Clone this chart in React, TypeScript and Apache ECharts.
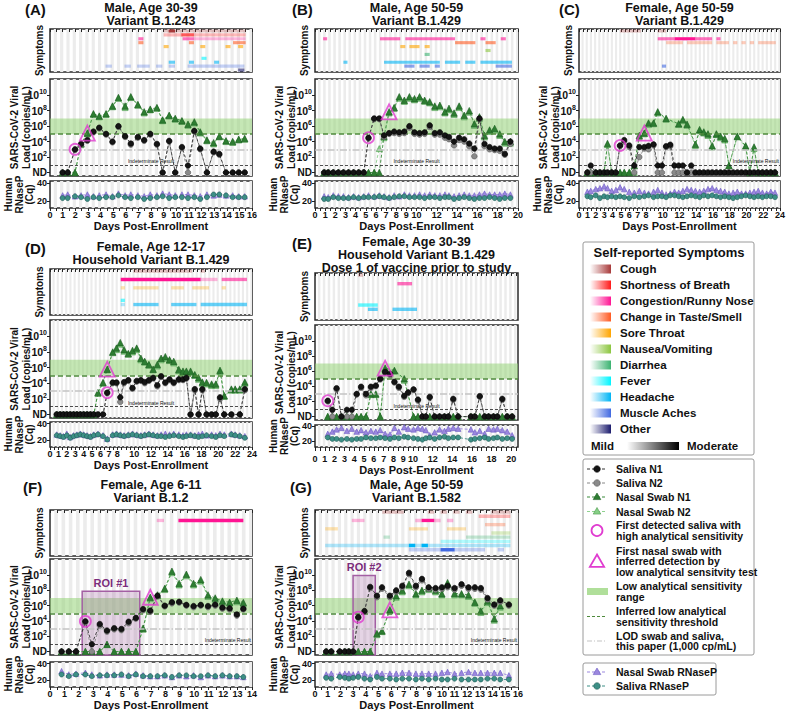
import React, { useEffect, useRef } from 'react';
import * as echarts from 'echarts';

const FONT = '"Liberation Sans", Arial, Helvetica, sans-serif';

// ---- symptom categories ----
const symptomNames = ['Cough', 'Shortness of Breath', 'Congestion/Runny Nose', 'Change in Taste/Smell', 'Sore Throat', 'Nausea/Vomiting', 'Diarrhea', 'Fever', 'Headache', 'Muscle Aches', 'Other'];
const symptomColors = ['#a83a3a', '#ff1a1a', '#ff1493', '#ff5a22', '#ffa500', '#8cc63f', '#3cb371', '#00f5ff', '#00b4f5', '#4169e1', '#1c1c6e'];
const severityAlpha = [0, 0.3, 0.6, 1];

// ---- Panel A ----
const A_days = [1.0, 1.4, 1.98, 2.46, 2.96, 3.44, 3.9, 4.44, 4.95, 5.42, 5.95, 6.4, 6.96, 7.46, 7.94, 8.47, 8.92, 9.44, 9.92, 10.45, 10.93, 11.43, 11.9, 12.43, 12.96, 13.41, 13.94, 14.47, 14.95, 15.42];
const A_salN1 = [0, 0, 3.0, 3.7, 4.2, 5.3, 5.8, 5.0, 4.0, 6.0, 4.7, 3.75, 4.6, 4.2, 5.0, 3.7, 0, 4.1, 0, 3.3, 0.9, 5.4, 3.1, 0, 2.7, 2.4, 0, 0, 0, 0];
const A_salN2 = [0, 0, 2.9, 3.6, 4.1, 5.2, 5.7, 4.9, 3.9, 5.9, 4.6, 3.6, 4.5, 4.1, 4.9, 3.6, 0, 4.0, 0, 3.2, 0, 5.3, 3.0, 0, 2.6, 2.3, 0, 0, 0, 0];
const A_nasN1 = [0, 0, 0, 3.75, 5.1, 7.6, 7.3, 7.6, 8.6, 9.7, 8.6, 9.8, 8.8, 7.85, 8.2, 8.4, 6.8, 7.4, 7.0, 6.7, 6.25, 6.55, 5.25, 4.2, 3.85, 4.7, 4.1, 4.0, 4.3, 4.4];
const A_nasN2 = [0, 0, 0, 3.6, 5.0, 7.5, 7.2, 7.5, 8.5, 9.6, 8.4, 9.7, 8.7, 7.7, 8.1, 8.3, 6.7, 7.3, 6.9, 6.6, 6.1, 6.4, 5.1, 4.1, 3.7, 4.6, 4.0, 3.9, 4.2, 4.3];
const A_rnNas = [26, 27, 25, 26, 27, 25, 26, 27, 25, 28, 26, 27, 26, 25, 27, 26, 28, 27, 26, 27, 27, 26, 25, 27, 26, 27, 26, 26, 25, 25];
const A_rnSal = [23, 23, 25, 24, 22, 24, 23, 24, 24, 26, 24, 23, 24, 22, 23, 24, 25, 23, 24, 24, 23, 24, 22, 24, 27, 27, 26, 24, 24, 24];
const A_firstSaliva = [1.98, 3.0];
const A_firstSwab = [2.96, 5.1];
const A_sym = [[9.0, 15.5, 0, 1], [9.4, 9.9, 0, 3], [9.0, 15.5, 1, 1], [10.4, 11.4, 1, 2], [7.0, 7.4, 2, 2], [10.5, 11.4, 2, 2], [11.4, 15.5, 2, 1], [7.0, 7.4, 3, 2], [11.0, 11.4, 3, 2], [14.5, 15.5, 3, 2], [9.0, 9.4, 4, 2], [11.9, 12.3, 4, 2], [13.9, 14.3, 4, 2], [14.9, 15.3, 4, 2], [12.0, 12.4, 7, 2], [9.4, 9.9, 8, 2], [11.0, 11.4, 8, 2], [13.0, 13.4, 8, 2], [4.4, 4.9, 9, 1], [5.9, 6.4, 9, 1], [6.9, 7.9, 9, 1], [8.4, 8.9, 9, 1], [9.4, 9.9, 9, 1], [10.9, 15.4, 9, 1], [14.9, 15.4, 10, 2]];

// ---- Panel B ----
const B_days = [0.9, 1.3, 1.8, 2.3, 2.8, 3.3, 3.8, 4.3, 4.8, 5.27, 5.83, 6.33, 6.8, 7.3, 7.8, 8.3, 8.8, 9.3, 9.8, 10.3, 10.8, 11.3, 11.8, 12.3, 12.8, 13.2, 13.7, 14.2, 14.7, 15.2, 15.7, 16.2, 16.7, 17.2, 17.7, 18.2, 18.7, 19.25];
const B_salN1 = [0, 0, 0, 0, 0, 0, 0, 0, 0, 4.5, 7.0, 7.0, 4.8, 5.1, 5.3, 5.2, 5.3, 6.0, 5.2, 5.1, 5.2, 6.1, 5.1, 5.2, 4.8, 4.6, 4.0, 4.5, 4.3, 3.75, 3.1, 7.0, 3.7, 3.3, 3.1, 3.1, 2.4, 4.0];
const B_salN2 = [0, 0, 0, 0, 0, 0, 0, 0, 0, 4.4, 6.9, 6.9, 4.6, 5.0, 5.1, 5.0, 5.1, 5.8, 5.0, 4.9, 5.0, 5.9, 4.9, 4.9, 4.5, 4.3, 3.5, 4.2, 4.0, 3.4, 2.1, 6.9, 3.4, 3.0, 2.9, 2.8, 2.3, 3.7];
const B_nasN1 = [0, 0, 0, 0, 0, 0, 0, 0, 0, 0, 0, 0, 4.7, 7.85, 8.4, 9.8, 9.35, 9.8, 9.55, 9.8, 9.35, 9.15, 8.6, 8.7, 7.85, 8.3, 7.7, 8.6, 7.4, 8.0, 6.3, 7.2, 4.8, 5.5, 5.7, 5.0, 4.0, 4.0];
const B_nasN2 = [0, 0, 0, 0, 0, 0, 0, 0, 0, 0, 0, 3.1, 4.5, 7.7, 8.3, 9.6, 9.2, 9.6, 9.4, 9.6, 9.2, 9.0, 8.4, 8.5, 7.7, 8.1, 7.5, 8.4, 7.2, 7.8, 6.1, 7.0, 4.6, 5.3, 5.5, 4.8, 3.8, 3.8];
const B_rnNas = [25, 24, 26, 25, 25, 24, 25, 24, 25, 26, 25, 26, 25, 24, 26, 25, 27, 26, 26, 27, 26, 27, 26, 26, 27, 26, 25, 26, 27, 26, 26, 27, 28, 27, 27, 27, 28, 27];
const B_rnSal = [22, 22, 24, 23, 23, 23, 24, 23, 24, 24, 24, 25, 24, 23, 24, 25, 25, 24, 24, 24, 23, 24, 24, 23, 24, 24, 22, 23, 24, 23, 22, 23, 23, 24, 23, 22, 23, 23];
const B_firstSaliva = [5.27, 4.5];
const B_firstSwab = [7.3, 7.85];
const B_sym = [[0.8, 1.2, 2, 2], [6.4, 8.4, 2, 2], [8.9, 13.8, 2, 2], [16.3, 16.8, 2, 2], [18.3, 18.8, 2, 2], [13.8, 15.8, 3, 2], [16.8, 17.8, 3, 2], [8.4, 8.9, 4, 2], [9.3, 10.3, 4, 2], [10.8, 11.3, 4, 2], [16.8, 17.3, 5, 2], [10.8, 11.3, 6, 2], [2.8, 3.2, 8, 2], [6.8, 12.3, 8, 2], [12.8, 14.3, 8, 2], [14.8, 15.8, 8, 2], [16.3, 19.4, 8, 2], [8.8, 9.8, 9, 2], [10.3, 11.3, 9, 2], [11.8, 12.3, 9, 2], [17.8, 19.4, 9, 2]];

// ---- Panel C ----
const C_days = [1.0, 1.4, 2.0, 2.5, 3.0, 3.4, 3.9, 4.4, 4.9, 5.4, 6.0, 6.6, 7.2, 7.8, 8.3, 8.9, 9.4, 9.9, 10.4, 10.9, 11.4, 11.9, 12.4, 12.9, 13.4, 13.9, 14.4, 14.9, 15.4, 15.9, 16.4, 16.9, 17.4, 17.9, 18.4, 18.9, 19.4, 19.9, 20.4, 20.9, 21.4, 21.9, 22.4, 22.9, 23.4];
const C_salN1 = [0, 0.9, 0, 0, 0, 0, 0, 0, 3.5, 4.2, 3.5, 0.9, 3.3, 3.3, 3.45, 3.65, 0.9, 0.9, 3.4, 3.6, 0.9, 0.9, 0.9, 0, 0.9, 0, 0, 0, 0, 0, 0, 0, 0, 0, 0, 0, 0, 0, 0, 0, 0, 0, 0, 0, 0];
const C_salN2 = [0, 0, 0, 0, 0, 0, 0, 0, 3.4, 4.0, 3.3, 0, 2.0, 3.1, 3.0, 3.5, 0, 0, 3.3, 3.4, 0, 0, 0, 0, 0, 0, 0, 0, 0, 0, 0, 0, 0, 0, 0, 0, 0, 0, 0, 0, 0, 0, 0, 0, 0];
const C_nasN1 = [0, 0, 0, 0, 0, 3.75, 0, 0, 0, 0, 0, 0.9, 4.8, 5.1, 6.4, 6.4, 7.85, null, 7.0, null, null, 6.3, 6.85, 6.25, null, 3.65, 5.55, 5.25, 5.0, 3.45, 5.0, 4.7, 4.4, 0.9, null, 4.7, null, 3.45, 0, 3.3, 0, 0, 0, 0, 0];
const C_nasN2 = [0, 0, 0, 0, 0, 3.6, 0, 0, 0, 0, 0, 0, 4.6, 5.0, 6.2, 6.3, 7.7, null, 6.9, null, null, 6.2, 6.7, 6.1, null, 3.5, 5.4, 5.1, 4.8, 3.3, 4.9, 4.5, 4.2, 0.9, null, 4.6, null, 3.3, 0, 3.1, 0, 0, 0, 0, 0];
const C_rnNas = [30, 31, 33, 34, 36, 34, 31, 32, 35, 33, 30, 29, 31, 29, 28, 30, 32, 29, 27, 28, 30, 29, 31, 33, 32, 31, 30, 31, 33, 34, 32, 31, 30, 28, 29, 30, 28, 28, 29, 30, 31, 29, 28, 30, 29];
const C_rnSal = [25, 24, 26, 23, 25, 24, 25, 24, 25, 24, 23, 25, 24, 25, 26, 24, 25, 25, 24, 26, 26, 25, 24, 25, 26, 25, 24, 26, 25, 26, 25, 24, 25, 24, 23, 24, 25, 26, 25, 24, 25, 24, 25, 25, 24];
const C_firstSaliva = [4.9, 3.5];
const C_firstSwab = [7.8, 5.1];
const C_sym = [[4.9, 7.4, 0, 1], [9.4, 10.4, 0, 1], [9.4, 11.4, 2, 2], [11.4, 13.9, 2, 3], [13.9, 14.9, 2, 2], [14.9, 15.9, 2, 2], [16.4, 16.9, 2, 2], [10.4, 12.4, 3, 1], [12.9, 15.9, 3, 1], [16.4, 17.9, 3, 1], [18.4, 18.9, 3, 1], [19.4, 19.9, 3, 1], [20.4, 20.9, 3, 1], [21.4, 23.5, 3, 1], [9.9, 10.4, 9, 2]];

// ---- Panel D ----
const D_days = [0.8, 1.2, 1.6, 2.0, 2.4, 2.8, 3.2, 3.6, 4.0, 4.4, 4.8, 5.2, 5.7, 6.3, 6.8, 7.45, 7.9, 8.35, 8.8, 9.3, 9.8, 10.3, 10.8, 11.25, 11.75, 12.25, 12.75, 13.2, 13.7, 14.2, 14.7, 15.3, 15.8, 16.2, 16.7, 17.2, 17.65, 18.1, 18.6, 19.2, 19.7, 20.2, 20.7, 21.55, 22.0, 22.55, 23.15];
const D_salN1 = [0, 0, 0, 0, 0, 0, 0, 0, 0, 0, 0, 0, 0, 0, 2.8, 4.1, 4.1, 2.2, 4.15, 4.4, 3.4, 4.3, 4.4, 4.15, 4.4, 4.7, 3.75, 4.9, 4.1, 4.5, 4.1, 4.5, 4.5, 4.7, 0, 3.25, 0, 3.25, 0, 0, 0, 2.2, 0, 0, null, 0, 3.25];
const D_salN2 = [0, 0, 0, 0, 0, 0, 0, 0, 0, 0, 0, 0, 0, 0, 2.7, 4.0, 4.0, 1.6, 4.0, 4.3, 3.3, 4.2, 4.3, 4.0, 4.3, 4.6, 3.6, 4.8, 4.0, 4.4, 4.0, 4.4, 4.4, 4.6, 0, 3.1, 0, 3.1, 0, 0, 0, 2.0, 0, 0, null, 0, 3.1];
const D_nasN1 = [0, 0, 0, 0, 0, 0, 0, 0, 0, 0, 0, 0, 2.8, 4.1, 5.8, 8.0, 8.5, 9.2, 8.3, 7.8, 8.2, 8.5, 7.2, 6.8, 6.4, 5.8, 6.4, 7.2, 7.4, 7.0, 6.8, 5.75, 5.55, 5.55, 5.55, 5.1, 4.7, 4.15, 4.1, 3.9, 3.9, 5.65, 2.4, 3.25, 3.25, 3.25, 4.15];
const D_nasN2 = [0, 0, 0, 0, 0, 0, 0, 0, 0, 0, 0, 0, 2.7, 4.0, 5.7, 7.9, 8.3, 9.0, 8.1, 7.7, 8.0, 8.3, 7.0, 6.7, 6.3, 5.7, 6.2, 7.0, 7.2, 6.9, 6.6, 5.6, 5.4, 5.4, 5.4, 5.0, 4.5, 4.0, 3.9, 3.7, 3.7, 5.5, 2.3, 3.1, 3.1, 3.1, 4.0];
const D_rnNas = [27, 26, 25, 28, 24, 26, 27, 28, 27, 26, 25, 27, 28, 26, 22, 27, 28, 27, 26, 27, 28, 27, 26, 27, 28, 27, 26, 27, 28, 27, 28, 27, 26, 27, 27, 26, 27, 28, 26, 27, 26, 28, 27, 28, 27, 26, 25];
const D_rnSal = [26, 25, 24, 26, 23, 25, 26, 27, 26, 25, 24, 26, 27, 25, 21, 26, 27, 26, 25, 26, 27, 26, 25, 26, 27, 26, 25, 25, 24, 25, 26, 25, 24, 25, 26, 25, 24, 25, 26, 25, 24, 26, 25, 27, 26, 25, 23];
const D_firstSaliva = [6.8, 2.8];
const D_firstSwab = [6.8, 5.8];
const D_sym = [[9.9, 16.9, 0, 1], [17.9, 18.4, 0, 1], [8.4, 17.9, 2, 3], [17.9, 19.9, 2, 1], [20.4, 23.4, 2, 2], [8.4, 8.9, 4, 1], [9.9, 12.9, 4, 1], [14.4, 15.9, 4, 1], [16.9, 18.9, 4, 1], [20.4, 20.9, 4, 1], [8.4, 8.9, 7, 2], [8.4, 8.9, 8, 1], [9.9, 12.9, 8, 2], [14.4, 17.4, 8, 2], [17.9, 23.4, 8, 2]];

// ---- Panel E ----
const E_days = [1.3, 1.77, 2.2, 2.7, 3.25, 3.75, 4.25, 4.7, 5.2, 5.7, 6.2, 6.65, 7.15, 7.65, 8.1, 8.55, 9.1, 9.5, 10.05, 10.5, 10.95, 11.3, 11.7, 12.2, 12.7, 13.2, 13.6, 14.1, 14.6, 15.9, 16.3, 16.8, 17.3, 17.7, 18.2, 18.6, 19.1, 19.6, 20.1];
const E_salN1 = [2.1, 0.9, 3.75, 0, 0.9, 0.9, 3.0, 3.95, 3.0, 3.95, 4.1, 5.0, 5.9, 5.65, 4.6, 3.95, 2.75, 3.2, 3.6, 2.25, 0, 0, 2.6, 0, 0, 0, 0, 2.35, 0, 0, 0, 2.7, 0, 0, 0, 0, 2.35, 0, 0];
const E_salN2 = [2.0, 0, 3.6, 0, 0, 0, 2.9, 3.8, 2.8, 3.8, 4.0, 4.9, 5.8, 5.5, 4.5, 3.8, 2.6, 3.1, 3.5, 2.1, 0, 0, 2.5, 0, 0, 0, 0, 2.2, 0, 0, 0, 2.6, 0, 0, 0, 0, 2.2, 0, 0];
const E_nasN1 = [0, 0, 0, 0, 0, 0, 0, 0, 0, 3.0, 3.0, 0, 6.4, null, 6.1, null, 5.0, null, 0, 0, 0, 0, 0, 0, 0, 0, 0, 0, 0, 0, 0, 0, 0, 0, 0, 0, 0, 0, 0];
const E_nasN2 = [0, 0, 0, 0, 0, 0, 0, 0, 0, 2.9, 2.9, 0, 6.2, null, 6.0, null, 4.8, null, 0, 0, 0, 0, 0, 0, 0, 0, 0, 0, 0, 0, 0, 0, 0, 0, 0, 0, 0, 0, 0];
const E_rnNas = [30, 33, 36, 38, 34, 37, 33, 35, 32, 34, 33, 35, 30, 29, 38, 33, 39, 37, 36, 38, 37, 35, 28, 32, 36, 34, 37, 38, 37, 36, 32, 34, 30, 37, 36, 37, 35, 33, 28];
const E_rnSal = [25, 23, 23, 22, 23, 22, 23, 23, 25, 24, 24, 25, 24, 23, 25, 24, 26, 25, 24, 23, 22, 24, 25, 23, 25, 26, 24, 25, 25, 22, 23, 24, 25, 23, 24, 25, 23, 24, 23];
const E_firstSaliva = [1.3, 2.1];
const E_firstSwab = [7.15, 6.4];
const E_sym = [[4.4, 4.9, 0, 1], [8.4, 9.9, 2, 2], [4.4, 6.4, 7, 2], [5.4, 6.4, 8, 2], [7.9, 10.4, 8, 2]];

// ---- Panel F ----
const F_days = [0.8, 1.3, 1.8, 2.45, 2.9, 3.45, 3.95, 4.45, 4.95, 5.45, 5.95, 6.45, 6.95, 7.45, 7.95, 8.45, 8.95, 9.45, 9.95, 10.45, 10.95, 11.45, 11.95, 12.45, 12.95, 13.4];
const F_salN1 = [0, 0, 0, 3.95, 0.95, 3.6, 2.75, 3.05, 2.95, 3.9, 4.4, 5.55, 5.35, 7.3, 6.0, 6.45, 6.5, 6.1, 5.95, 6.1, 5.95, 6.15, 5.75, 5.65, 4.85, 5.6];
const F_salN2 = [0, 0, 0, 3.8, 0, 3.4, 2.6, 2.9, 2.8, 3.7, 4.3, 5.4, 5.2, 7.2, 5.9, 6.3, 6.4, 6.0, 5.8, 6.0, 5.8, 6.0, 5.6, 5.5, 4.7, 5.5];
const F_nasN1 = [0, 0, 0, 0, 0, 0, 0.95, 0, 0, 0, 0, 3.05, 7.1, 7.4, 8.25, 10.5, 8.9, 10.1, 8.9, 9.4, 7.4, 7.0, 6.6, 6.45, 6.7, 6.4];
const F_nasN2 = [0, 0, 0, 0, 0, 0, 0.9, 0, 0, 0, 0, 2.9, 6.9, 7.3, 8.1, 10.3, 8.7, 9.9, 8.7, 9.2, 7.2, 6.8, 6.4, 6.3, 6.5, 6.2];
const F_rnNas = [31, 27, 28, 29, 27, 26, 27, 27, 27, 26, 28, 26, 25, 25, 26, 24, 26, 25, 26, 24, 26, 25, 26, 25, 25, 24];
const F_rnSal = [27, 25, 27, 27, 25, 26, 26, 26, 27, 25, 27, 25, 25, 25, 26, 24, 26, 26, 25, 25, 26, 25, 26, 25, 25, 24];
const F_firstSaliva = [2.45, 3.95];
const F_firstSwab = [6.95, 7.1];
const F_roi = [2.23, 6.22, 7.9];
const F_sym = [[7.4, 7.9, 2, 1], [8.9, 13.4, 2, 3]];

// ---- Panel G ----
const G_days = [0.88, 1.28, 1.95, 2.35, 2.67, 3.01, 3.41, 3.9, 4.35, 4.88, 5.28, 5.9, 6.4, 6.88, 7.41, 7.95, 8.43, 8.96, 9.5, 10.0, 10.45, 11.0, 11.55, 12.1, 12.6, 13.07, 13.6, 14.13, 14.6, 15.28];
const G_salN1 = [0, 0, 0, 0, 0, 0, 4.5, 5.3, 8.45, 7.3, 8.4, 7.3, 8.0, 8.6, 10.3, 8.6, 9.5, 8.4, 8.3, 8.4, 8.6, 8.3, 8.8, 8.4, 8.4, 8.3, 7.0, 6.15, 6.7, 6.15];
const G_salN2 = [0, 0, 0, 0, 0, 0, 4.4, 5.2, 8.3, 7.1, 8.2, 7.1, 7.8, 8.4, 10.1, 8.4, 9.3, 8.2, 8.1, 8.2, 8.4, 8.1, 8.6, 8.2, 8.2, 8.1, 6.8, 6.0, 6.5, 6.0];
const G_nasN1 = [0, 0, 0, 0, 0, 0, 0, 0, 0, 2.35, 2.7, 5.45, 7.3, 8.0, 8.8, 7.55, 8.0, 8.3, 8.0, 7.55, 9.0, 7.6, 7.55, 7.4, 6.45, 5.3, 6.6, 4.3, 6.0, null];
const G_nasN2 = [0, 0, 0, 0, 0, 0, 0, 0, 0, 2.2, 2.6, 5.3, 7.1, 7.8, 8.6, 7.4, 7.8, 8.1, 7.8, 7.4, 8.8, 7.4, 7.4, 7.2, 6.3, 5.1, 6.4, 4.1, 5.8, null];
const G_rnNas = [27, 28, 27, 28, 28, 27, 28, 28, 25, 29, 28, 28, 28, 29, 29, 28, 28, 28, 28, 29, 30, 28, 29, 30, 29, 29, 29, 29, 29, 26];
const G_rnSal = [23, 22, 24, 23, 22, 23, 24, 22, 21, 24, 22, 22, 21, 22, 22, 21, 22, 21, 22, 21, 21, 22, 21, 21, 21, 21, 22, 22, 21, 21];
const G_firstSaliva = [3.41, 4.5];
const G_firstSwab = [5.9, 5.45];
const G_roi = [3.0, 4.75, 9.95];
const G_sym = [[5.3, 7.0, 0, 1], [8.9, 9.4, 0, 1], [9.9, 10.4, 0, 1], [10.9, 11.4, 0, 1], [11.9, 12.4, 0, 1], [13.9, 15.4, 0, 1], [12.9, 15.4, 1, 1], [2.9, 3.9, 2, 1], [7.9, 8.4, 2, 1], [8.4, 9.4, 2, 3], [9.4, 9.9, 2, 1], [10.4, 10.9, 2, 1], [13.4, 15.0, 3, 1], [0.8, 1.8, 4, 1], [7.4, 8.9, 4, 1], [10.4, 11.9, 4, 1], [13.9, 15.4, 5, 1], [5.4, 5.9, 6, 1], [11.9, 15.4, 6, 1], [9.9, 15.4, 7, 1], [0.8, 15.4, 8, 1], [7.4, 7.9, 8, 3], [8.4, 8.9, 8, 3], [7.4, 13.4, 9, 1], [9.9, 11.0, 9, 3], [14.4, 14.9, 9, 1]];

// ---- reference levels (log10 copies/mL) ----
const lowSensBand = [5, 7];
const lowSensThreshold = 5;
const lodLevel = 3;
const indeterminateLevel = 1;
const viralTickValues = [0, 2, 4, 6, 8, 10];
const rnaseTickValues = [20, 40];

// ---- x tick label sets ----
const labels16 = [0, 1, 2, 3, 4, 5, 6, 7, 8, 9, 10, 11, 12, 13, 14, 15, 16];
const labels14 = [0, 1, 2, 3, 4, 5, 6, 7, 8, 9, 10, 11, 12, 13, 14];
const labels20 = [0, 1, 2, 3, 4, 5, 6, 7, 8, 9, 10, 12, 14, 16, 18, 20];
const labels24 = [0, 1, 2, 3, 4, 5, 6, 7, 8, 10, 12, 14, 16, 18, 20, 22, 24];

// ---- layout ----
const COLS = [[50, 252], [315, 518], [579, 780]];
const ROWS: any = {
  r1: { sym: [29, 72], vir: [79, 176], rna: [181, 208], title: 8 },
  d: { sym: [269, 315], vir: [320, 418], rna: [422, 447], title: 247 },
  e: { sym: [273, 320], vir: [325, 420], rna: [425, 447], title: 242 },
  r3: { sym: [510, 556], vir: [559, 655], rna: [662, 687], title: 485 },
};

const range = (a: number, b: number, s: number) => { const out: number[] = []; for (let v = a; v <= b + 1e-9; v += s) out.push(+v.toFixed(2)); return out; };

const panels: any[] = [
  { letter: '(A)', lx: 25, ly: 2, title: ['Male, Age 30-39', 'Variant B.1.243'], col: 0, row: 'r1', xMax: 16, labels: labels16, days: A_days, salN1: A_salN1, salN2: A_salN2, nasN1: A_nasN1, nasN2: A_nasN2, rnNas: A_rnNas, rnSal: A_rnSal, first: A_firstSaliva, swab: A_firstSwab, sym: A_sym, indet: 'insideMiddleTop' },
  { letter: '(B)', lx: 292, ly: 2, title: ['Male, Age 50-59', 'Variant B.1.429'], col: 1, row: 'r1', xMax: 20, labels: labels20, days: B_days, salN1: B_salN1, salN2: B_salN2, nasN1: B_nasN1, nasN2: B_nasN2, rnNas: B_rnNas, rnSal: B_rnSal, first: B_firstSaliva, swab: B_firstSwab, sym: B_sym, indet: 'insideMiddleTop' },
  { letter: '(C)', lx: 559, ly: 2, title: ['Female, Age 50-59', 'Variant B.1.429'], col: 2, row: 'r1', xMax: 24, labels: labels24, days: C_days, salN1: C_salN1, salN2: C_salN2, nasN1: C_nasN1, nasN2: C_nasN2, rnNas: C_rnNas, rnSal: C_rnSal, first: C_firstSaliva, swab: C_firstSwab, sym: C_sym, indet: 'insideEndTop' },
  { letter: '(D)', lx: 25, ly: 241, title: ['Female, Age 12-17', 'Household Variant B.1.429'], col: 0, row: 'd', xMax: 24, labels: labels24, days: D_days, salN1: D_salN1, salN2: D_salN2, nasN1: D_nasN1, nasN2: D_nasN2, rnNas: D_rnNas, rnSal: D_rnSal, first: D_firstSaliva, swab: D_firstSwab, sym: D_sym, indet: 'insideMiddleTop' },
  { letter: '(E)', lx: 292, ly: 236, title: ['Female, Age 30-39', 'Household Variant B.1.429', 'Dose 1 of vaccine prior to study'], col: 1, row: 'e', xMax: 20.7, labels: labels20, days: E_days, salN1: E_salN1, salN2: E_salN2, nasN1: E_nasN1, nasN2: E_nasN2, rnNas: E_rnNas, rnSal: E_rnSal, first: E_firstSaliva, swab: E_firstSwab, sym: E_sym, indet: 'insideMiddleTop', labelMargin: 7 },
  { letter: '(F)', lx: 23, ly: 480, title: ['Female, Age 6-11', 'Variant B.1.2'], col: 0, row: 'r3', xMax: 14, labels: labels14, days: F_days, salN1: F_salN1, salN2: F_salN2, nasN1: F_nasN1, nasN2: F_nasN2, rnNas: F_rnNas, rnSal: F_rnSal, first: F_firstSaliva, swab: F_firstSwab, sym: F_sym, indet: 'insideEndTop', roi: F_roi, roiName: 'ROI #1' },
  { letter: '(G)', lx: 290, ly: 480, title: ['Male, Age 50-59', 'Variant B.1.582'], col: 1, row: 'r3', xMax: 16, labels: labels16, days: G_days, salN1: G_salN1, salN2: G_salN2, nasN1: G_nasN1, nasN2: G_nasN2, rnNas: G_rnNas, rnSal: G_rnSal, first: G_firstSaliva, swab: G_firstSwab, sym: G_sym, indet: 'insideEndTop', roi: G_roi, roiName: 'ROI #2' },
];

const VMIN = -0.45, VMAX = 12.1;
const MAGENTA = '#e03cd0';
const TXT = '#111';

const nameStyle = { fontSize: 10, fontWeight: 'bold', fontFamily: FONT, color: TXT, lineHeight: 12 };

function stripeSeries(gi: number, max: number, yRef: number) {
  const starts: number[] = [];
  for (let s = 0.3; s < max; s += 0.5) starts.push(+s.toFixed(2));
  return {
    type: 'custom', xAxisIndex: gi, yAxisIndex: gi, silent: true, z: 0, clip: true,
    data: starts.map((s) => [s, yRef]),
    renderItem: (params: any, api: any) => {
      const s = api.value(0);
      const a = api.coord([s, yRef]);
      const b = api.coord([Math.min(s + 0.25, max), yRef]);
      const cs = params.coordSys;
      return { type: 'rect', shape: { x: a[0], y: cs.y, width: b[0] - a[0], height: cs.height }, style: { fill: '#ececec' } };
    },
  };
}

function symptomSeries(gi: number, segs: number[][]) {
  return {
    type: 'custom', xAxisIndex: gi, yAxisIndex: gi, silent: true, z: 2, clip: true,
    data: segs,
    encode: { x: [0, 1], y: 2 },
    renderItem: (params: any, api: any) => {
      const x0 = api.value(0), x1 = api.value(1), r = api.value(2), lvl = api.value(3);
      const a = api.coord([x0, r]);
      const b = api.coord([x1, r + 1]);
      const h = b[1] - a[1];
      return { type: 'rect', shape: { x: a[0], y: a[1] + h * 0.1, width: b[0] - a[0], height: h * 0.8 }, style: { fill: symptomColors[r], opacity: severityAlpha[lvl] } };
    },
  };
}

function lineSeries(name: string, gi: number, days: number[], vals: any[], sym: string, size: number, fill: string, edge: string, lineColor: string, z: number) {
  return {
    type: 'line', name, xAxisIndex: gi, yAxisIndex: gi, silent: true, z,
    data: days.map((d, i) => [d, vals[i] == null ? '-' : vals[i]]),
    connectNulls: true, symbol: sym, symbolSize: size, showAllSymbol: true,
    itemStyle: { color: fill, borderColor: edge, borderWidth: 0.6 },
    lineStyle: { color: lineColor, width: 0.9, type: [3, 2] },
  };
}

function buildOption() {
  const grids: any[] = [], xAxes: any[] = [], yAxes: any[] = [], series: any[] = [], graphics: any[] = [];

  panels.forEach((p) => {
    const [left, right] = COLS[p.col];
    const L = ROWS[p.row];
    const gSym = grids.length, gVir = gSym + 1, gRna = gSym + 2;
    [L.sym, L.vir, L.rna].forEach(([t, b]: number[]) => {
      grids.push({ left, top: t, width: right - left, height: b - t, show: true, backgroundColor: '#fff', borderColor: '#2a2a2a', borderWidth: 1.5, containLabel: false, outerBoundsMode: 'none' });
    });
    const halfTicks = range(0, p.xMax, 0.5);
    const xCommon = { type: 'value', min: 0, max: p.xMax, splitLine: { show: false }, axisLine: { show: false } };
    xAxes.push({ ...xCommon, gridIndex: gSym, axisLabel: { show: false }, axisTick: { show: true, customValues: halfTicks, length: 3, lineStyle: { color: '#222' } } });
    xAxes.push({ ...xCommon, gridIndex: gVir, axisLabel: { show: false }, axisTick: { show: false } });
    xAxes.push({
      ...xCommon, gridIndex: gRna,
      axisTick: { show: true, customValues: halfTicks, length: p.labelMargin ? 4 : 3, lineStyle: { color: '#222' } },
      axisLabel: { customValues: p.labels, fontSize: 9, fontWeight: 'bold', fontFamily: FONT, color: TXT, margin: p.labelMargin || 2 },
      name: 'Days Post-Enrollment', nameLocation: 'middle', nameGap: p.labelMargin ? 17 : 12,
      nameTextStyle: { fontSize: 11, fontWeight: 'bold', fontFamily: FONT, color: TXT },
      nameMoveOverlap: false,
    });

    yAxes.push({
      type: 'value', gridIndex: gSym, min: 0, max: 11, inverse: true,
      axisLabel: { show: false }, axisTick: { show: false }, axisLine: { show: false }, splitLine: { show: false },
      name: 'Symptoms', nameLocation: 'middle', nameGap: 5, nameTextStyle: nameStyle, nameMoveOverlap: false,
    });
    yAxes.push({
      type: 'value', gridIndex: gVir, min: VMIN, max: VMAX,
      axisLine: { show: false }, splitLine: { show: false },
      axisTick: { show: true, customValues: viralTickValues, length: 3, lineStyle: { color: '#222' } },
      axisLabel: {
        customValues: viralTickValues, margin: 3,
        formatter: (v: number) => (v === 0 ? '{n|ND}' : `{b|10}{s|${v}}`),
        rich: {
          b: { fontSize: 10.5, fontWeight: 'bold', fontFamily: FONT, color: TXT },
          n: { fontSize: 10, fontWeight: 'bold', fontFamily: FONT, color: TXT, lineHeight: 10 },
          s: { fontSize: 7, fontWeight: 'bold', fontFamily: FONT, color: TXT, padding: [0, 0, 7, 0] },
        },
      },
      name: 'SARS-CoV-2 Viral\nLoad (copies/mL)', nameLocation: 'middle', nameGap: 18, nameTextStyle: nameStyle, nameMoveOverlap: false,
    });
    yAxes.push({
      type: 'value', gridIndex: gRna, min: 12, max: 42,
      axisLine: { show: false }, splitLine: { show: false },
      axisTick: { show: true, customValues: rnaseTickValues, length: 3, lineStyle: { color: '#222' } },
      axisLabel: { customValues: rnaseTickValues, fontSize: 9, fontWeight: 'bold', fontFamily: FONT, color: TXT, margin: 3, lineHeight: 9 },
      name: 'Human\nRNaseP\n(Cq)', nameLocation: 'middle', nameGap: 15, nameTextStyle: { ...nameStyle, lineHeight: 10.5 }, nameMoveOverlap: false,
    });

    // background stripes
    series.push(stripeSeries(gSym, p.xMax, 5));
    series.push(stripeSeries(gVir, p.xMax, 5));
    series.push(stripeSeries(gRna, p.xMax, 30));
    // symptoms
    series.push(symptomSeries(gSym, p.sym));
    // reference band & lines
    series.push({
      type: 'line', xAxisIndex: gVir, yAxisIndex: gVir, data: [], silent: true, z: 1,
      markArea: { silent: true, itemStyle: { color: 'rgba(150,212,120,0.55)' }, data: [[{ yAxis: lowSensBand[0] }, { yAxis: lowSensBand[1] }]] },
      markLine: {
        silent: true, symbol: 'none',
        data: [
          { yAxis: lowSensThreshold, lineStyle: { color: '#4f8a3c', width: 1.5, type: [5, 3] }, label: { show: false } },
          { yAxis: lodLevel, lineStyle: { color: '#c4c4c4', width: 1.5, type: [7, 2, 1.5, 2] }, label: { show: false } },
          { yAxis: indeterminateLevel, lineStyle: { color: '#222', width: 0.8, type: [3, 2] }, label: { show: true, formatter: 'Indeterminate Result', position: p.indet, fontSize: 5, color: '#111', fontFamily: FONT, distance: 1 } },
        ],
      },
    });
    if (p.roi) {
      series.push({
        type: 'line', xAxisIndex: gVir, yAxisIndex: gVir, data: [], silent: true, z: 1,
        markArea: {
          silent: true,
          itemStyle: { color: 'rgba(160,100,160,0.28)', borderColor: '#a35fa3', borderWidth: 1.5 },
          label: { show: true, position: 'top', formatter: p.roiName, color: '#7b2d7b', fontSize: 11, fontWeight: 'bold', fontFamily: FONT, distance: 2 },
          data: [[{ xAxis: p.roi[0], yAxis: p.roi[2] }, { xAxis: p.roi[1], yAxis: VMIN }]],
        },
      });
    }
    // viral load series
    series.push(lineSeries('Nasal Swab N2', gVir, p.days, p.nasN2, 'triangle', 6, '#86cf86', '#4e9a4e', '#8fd28f', 3));
    series.push(lineSeries('Nasal Swab N1', gVir, p.days, p.nasN1, 'triangle', 6.5, '#2e7d32', '#1b5e20', '#3b8b3b', 4));
    series.push(lineSeries('Saliva N2', gVir, p.days, p.salN2, 'circle', 5.5, '#8a8a8a', '#555', '#888', 5));
    series.push(lineSeries('Saliva N1', gVir, p.days, p.salN1, 'circle', 5.5, '#141414', '#000', '#333', 6));
    // first detections
    series.push({ type: 'scatter', xAxisIndex: gVir, yAxisIndex: gVir, silent: true, z: 8, symbol: 'circle', symbolSize: 11, data: [p.first], itemStyle: { color: 'rgba(0,0,0,0)', borderColor: MAGENTA, borderWidth: 1.8 } });
    series.push({ type: 'scatter', xAxisIndex: gVir, yAxisIndex: gVir, silent: true, z: 8, symbol: 'triangle', symbolSize: 15, data: [p.swab], itemStyle: { color: 'rgba(0,0,0,0)', borderColor: MAGENTA, borderWidth: 1.8 } });
    // RNaseP
    series.push(lineSeries('Nasal Swab RNaseP', gRna, p.days, p.rnNas, 'triangle', 5.5, '#9b87de', '#6c5bc4', '#9b87de', 3));
    series.push(lineSeries('Saliva RNaseP', gRna, p.days, p.rnSal, 'circle', 5, '#3d8f86', '#1f5a54', '#3d8f86', 4));

    // titles
    graphics.push({ type: 'text', left: p.lx, top: p.ly, style: { text: p.letter, font: `bold 15px ${FONT}`, fill: TXT } });
    graphics.push({
      type: 'text', x: (left + right) / 2, y: L.title - 6.5,
      style: { text: p.title.join('\n'), font: `bold 12.5px ${FONT}`, fill: TXT, textAlign: 'center', textVerticalAlign: 'top', lineHeight: 13 },
    });
  });

  // ---- symptom legend ----
  graphics.push({ type: 'rect', shape: { x: 583, y: 242, width: 171, height: 213, r: 2 }, style: { fill: '#fff', stroke: '#9a9a9a', lineWidth: 1 } });
  graphics.push({ type: 'text', x: 669, y: 252, style: { text: 'Self-reported Symptoms', font: `bold 13px ${FONT}`, fill: TXT, textAlign: 'center', textVerticalAlign: 'middle' } });
  symptomNames.forEach((nm, i) => {
    const y = 269 + 16 * i;
    graphics.push({ type: 'rect', shape: { x: 590, y: y - 4.5, width: 21, height: 9 }, style: { fill: new echarts.graphic.LinearGradient(0, 0, 1, 0, [{ offset: 0, color: '#ffffff' }, { offset: 1, color: symptomColors[i] }]) } });
    graphics.push({ type: 'text', x: 620, y, style: { text: nm, font: `bold 11.5px ${FONT}`, fill: TXT, textVerticalAlign: 'middle' } });
  });
  graphics.push({ type: 'text', x: 591, y: 446, style: { text: 'Mild', font: `bold 11.5px ${FONT}`, fill: TXT, textVerticalAlign: 'middle' } });
  graphics.push({ type: 'rect', shape: { x: 627, y: 442, width: 52, height: 8 }, style: { fill: new echarts.graphic.LinearGradient(0, 0, 1, 0, [{ offset: 0, color: '#ffffff' }, { offset: 1, color: '#000000' }]) } });
  graphics.push({ type: 'text', x: 687, y: 446, style: { text: 'Moderate', font: `bold 11.5px ${FONT}`, fill: TXT, textVerticalAlign: 'middle' } });

  // ---- marker legend ----
  graphics.push({ type: 'rect', shape: { x: 583, y: 459, width: 171, height: 196, r: 2 }, style: { fill: '#fff', stroke: '#9a9a9a', lineWidth: 1 } });
  const lx0 = 587, lx1 = 607, lc = 597, tx = 616;
  const lt = (text: string, y: number) => graphics.push({ type: 'text', x: tx, y, style: { text, font: `bold 10.5px ${FONT}`, fill: TXT, textVerticalAlign: 'middle', lineHeight: 10.5 } });
  const dl = (y: number, color: string, dash: any, w = 1) => graphics.push({ type: 'line', shape: { x1: lx0, y1: y, x2: lx1, y2: y }, style: { stroke: color, lineWidth: w, lineDash: dash } });
  const tri = (cx: number, cy: number, r: number, fill: string, stroke: string, lw = 0.6) => graphics.push({ type: 'polygon', shape: { points: [[cx, cy - r], [cx + r * 0.95, cy + r * 0.65], [cx - r * 0.95, cy + r * 0.65]] }, style: { fill, stroke, lineWidth: lw } });
  const cir = (cx: number, cy: number, r: number, fill: string, stroke: string, lw = 0.6) => graphics.push({ type: 'circle', shape: { cx, cy, r }, style: { fill, stroke, lineWidth: lw } });

  dl(469, '#333', [3, 2]); cir(lc, 469, 3.3, '#141414', '#000'); lt('Saliva N1', 469);
  dl(483, '#888', [3, 2]); cir(lc, 483, 3.3, '#8a8a8a', '#555'); lt('Saliva N2', 483);
  dl(497, '#3b8b3b', [3, 2]); tri(lc, 497, 4, '#2e7d32', '#1b5e20'); lt('Nasal Swab N1', 497);
  dl(511.5, '#8fd28f', [3, 2]); tri(lc, 511.5, 4, '#86cf86', '#4e9a4e'); lt('Nasal Swab N2', 511.5);
  cir(lc, 530.5, 5.5, 'rgba(0,0,0,0)', MAGENTA, 1.8); lt('First detected saliva with\nhigh analytical sensitivity', 530.5);
  tri(lc, 562, 7.5, 'rgba(0,0,0,0)', MAGENTA, 1.8); lt('First nasal swab with\ninferred detection by\nlow analytical sensitvity test', 561);
  graphics.push({ type: 'rect', shape: { x: 587, y: 588, width: 21, height: 7 }, style: { fill: 'rgba(150,212,120,0.75)' } });
  lt('Low analytical sensitivity\nrange', 591.5);
  dl(616.5, '#4f8a3c', [3, 2], 1.2); lt('Inferred low analytical\nsensitivity threshold', 616.5);
  dl(641, '#c4c4c4', [5, 2, 1, 2], 1.2); lt('LOD swab and saliva,\nthis paper (1,000 cp/mL)', 641);

  // ---- RNaseP legend ----
  graphics.push({ type: 'rect', shape: { x: 583, y: 663, width: 133, height: 32, r: 2 }, style: { fill: '#fff', stroke: '#9a9a9a', lineWidth: 1 } });
  dl(672, '#9b87de', [3, 2]); tri(lc, 672, 4, '#9b87de', '#6c5bc4'); lt('Nasal Swab RNaseP', 672);
  dl(686, '#3d8f86', [3, 2]); cir(lc, 686, 3.3, '#3d8f86', '#1f5a54'); lt('Saliva RNaseP', 686);

  return {
    animation: false,
    backgroundColor: '#fff',
    textStyle: { fontFamily: FONT },
    grid: grids, xAxis: xAxes, yAxis: yAxes, series, graphic: graphics,
  };
}

export default function App() {
  const ref = useRef<HTMLDivElement>(null);
  useEffect(() => {
    if (!ref.current) return;
    const chart = echarts.init(ref.current, undefined, { renderer: 'svg' });
    chart.setOption(buildOption() as any);
    return () => chart.dispose();
  }, []);
  return <div ref={ref} style={{ position: 'fixed', left: 0, top: 0, width: 786, height: 713, background: '#fff' }} />;
}
